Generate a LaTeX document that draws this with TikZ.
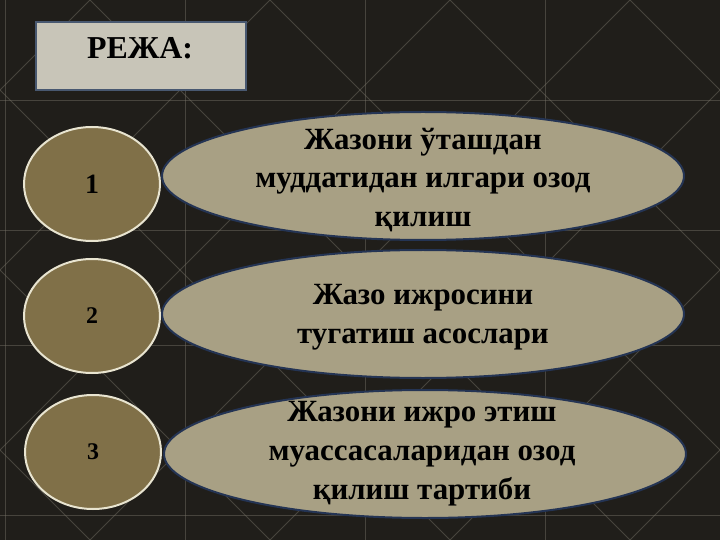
\documentclass[tikz,border=0pt]{standalone}
\usepackage{fontspec}
\setmainfont{Liberation Serif}
\usetikzlibrary{shapes.geometric}

\definecolor{bgdark}{RGB}{32,30,26}
\definecolor{bgline}{RGB}{120,116,104}
\definecolor{titlefill}{RGB}{200,197,184}
\definecolor{titleedge}{RGB}{72,88,112}
\definecolor{numfill}{RGB}{128,112,72}
\definecolor{numedge}{RGB}{232,228,208}
\definecolor{ovalfill}{RGB}{168,160,132}
\definecolor{ovaledge}{RGB}{36,52,84}

\begin{document}
\begin{tikzpicture}
    [x=1bp, y=-1bp,
    titlebox/.style={draw=titleedge, fill=titlefill, line width=2bp,
      minimum width=210bp, minimum height=68bp, inner sep=0pt},
    numcirc/.style={ellipse, draw=numedge, fill=numfill, line width=2bp,
      minimum width=136bp, minimum height=114bp, inner sep=0pt,
      font=\bfseries\fontsize{24}{26}\selectfont},
    itemoval/.style={ellipse, draw=ovaledge, fill=ovalfill, line width=2bp,
      minimum width=522bp, minimum height=128bp, inner sep=0pt},
    itemtext/.style={align=center, inner sep=0pt,
      font=\bfseries\fontsize{31}{39}\selectfont}]
    % background
    \fill[bgdark] (0,0) rectangle (720,540);
    \useasboundingbox (0,0) rectangle (720,540);
    \begin{scope}[bgline, line width=0.8bp, opacity=0.45]
      \foreach \gx in {5,185,365,545} {
        \draw (\gx,0) -- (\gx,540);
      }
      \foreach \gy in {100,230,345,515} {
        \draw (0,\gy) -- (720,\gy);
      }
      \foreach \dd in {-540,-360,-180,0,180,360,540} {
        \draw (\dd+90,0) -- (\dd+630,540);
        \draw (\dd+90,540) -- (\dd+630,0);
      }
    \end{scope}
    % title
    \node[titlebox] (title) at (141,56) {};
    \node[font=\bfseries\fontsize{32}{36}\selectfont] (titletext) at (140,48) {РЕЖА:};
    % numbers
    \node[numcirc] (num1) at (92,184) {\fontsize{28}{30}\selectfont 1};
    \node[numcirc] (num2) at (92,316) {2};
    \node[numcirc] (num3) at (93,452) {3};
    % items
    \node[itemoval] (item1) at (423,176) {};
    \node[itemoval] (item2) at (423,314) {};
    \node[itemoval] (item3) at (425,454) {};
    \node[itemtext] (text1) at ([yshift=-4bp]item1.center)
      {Жазони ўташдан\\муддатидан илгари озод\\қилиш};
    \node[itemtext] (text2) at ([yshift=-3bp]item2.center)
      {Жазо ижросини\\тугатиш асослари};
    \node[itemtext] (text3) at ([xshift=-3bp]item3.center)
      {Жазони ижро этиш\\муассасаларидан озод\\қилиш тартиби};
  \end{tikzpicture}
\end{document}
